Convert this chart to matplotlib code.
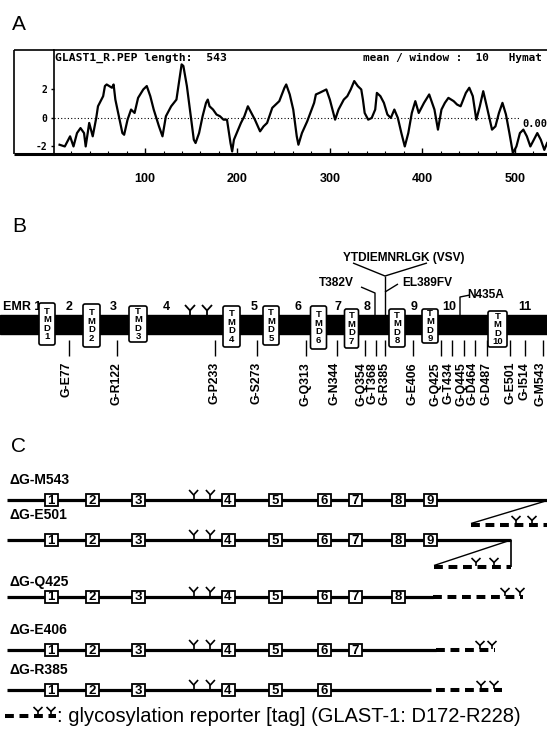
import matplotlib
matplotlib.use('Agg')
import matplotlib.pyplot as plt
from matplotlib.patches import Rectangle, FancyBboxPatch

# ------------------------------------------------------------------ data
# Panel A: hydropathy profile (residue number, mean hydropathy, window 10)
hyd_residue = [7.5, 13.2, 18.9, 22.6, 26.4, 30.2, 34.0, 35.8, 39.6, 43.4, 47.2, 49.1,
               54.7, 56.6, 58.5, 64.2, 66.0, 67.9, 71.7, 75.5, 77.4, 81.1, 84.9, 88.7,
               92.5, 98.1, 101.9, 105.7, 109.4, 115.1, 118.9, 122.6, 128.3, 134.0, 137.7,
               139.6, 141.5, 145.3, 149.1, 152.8, 154.7, 158.5, 162.3, 166.0, 167.9, 169.8,
               173.6, 177.4, 181.1, 184.9, 188.7, 192.5, 194.3, 196.2, 200.0, 203.8, 207.5,
               211.3, 215.1, 218.9, 224.5, 228.3, 232.1, 237.7, 245.3, 250.9, 252.8, 256.6,
               260.4, 264.2, 266.0, 269.8, 275.5, 283.0, 284.9, 288.7, 296.2, 300.0, 303.8,
               305.7, 309.4, 311.3, 315.1, 318.9, 322.6, 326.4, 330.2, 334.0, 335.8, 337.7,
               341.5, 345.3, 349.1, 350.9, 354.7, 358.5, 362.3, 366.0, 369.8, 373.6, 377.4,
               381.1, 384.9, 388.7, 392.5, 396.2, 401.9, 407.5, 413.2, 417.0, 420.8, 424.5,
               428.3, 434.0, 437.7, 441.5, 447.2, 450.9, 454.7, 458.5, 462.3, 466.0, 469.8,
               475.5, 479.2, 483.0, 486.8, 490.6, 494.3, 498.1, 501.9, 505.7, 509.4, 513.2,
               517.0, 520.8, 524.5, 528.3, 532.1, 535.1]
hyd_value = [-1.88, -2.0, -1.29, -2.0, -1.06, -0.71, -1.06, -2.0, -0.35, -1.29, 0.0, 0.82,
             1.53, 2.24, 2.35, 2.12, 2.35, 1.29, 0.12, -1.06, -1.18, -0.12, 0.59, 0.35,
             1.41, 2.0, 2.24, 1.53, 0.59, -0.59, -1.29, 0.12, 0.82, 1.29, 2.94,
             3.76, 3.65, 2.24, 0.35, -1.53, -1.76, -1.06, 0.12, 1.06, 1.29, 0.82,
             0.59, 0.24, 0.12, -0.12, -0.12, -1.76, -2.35, -1.53, -0.94, -0.35, 0.12,
             0.82, 0.35, -0.12, -0.94, -0.59, -0.35, 0.71, 1.18, 2.12, 2.35, 1.65,
             0.59, -1.29, -1.88, -1.06, -0.24, 1.06, 1.65, 1.76, 2.0, 1.29, 0.35,
             -0.12, 0.59, 0.82, 1.29, 1.53, 2.0, 2.59, 2.24, 2.0, 1.29, 0.35,
             -0.12, 0.0, 0.59, 1.76, 1.53, 1.06, 0.24, 0.0, 0.59, 0.0, -1.06,
             -2.0, -1.06, 0.35, 1.18, 0.35, 1.06, 1.65, 0.59, -0.82, 0.59, 1.06,
             1.41, 1.18, 0.94, 0.82, 1.76, 2.12, 1.53, -0.12, 0.82, 1.88, 0.82,
             -0.82, -0.59, 0.35, 1.06, 0.24, -1.06, -2.47, -2.0, -1.06, -0.82, -1.29,
             -2.0, -1.53, -1.06, -1.53, -2.24, -1.76]
hyd_xticks = [100, 200, 300, 400, 500]
hyd_yticks = [2, 0, -2]
header_left = 'GLAST1_R.PEP length:  543'
header_right = 'mean / window :  10   Hymat'
zero_label = '0.00'

# Panel B: topology model
loop_labels = ['EMR 1', '2', '3', '4', '5', '6', '7', '8', '9', '10', '11']
tmd_labels = ['1', '2', '3', '4', '5', '6', '7', '8', '9', '10']
construct_labels = ['G-E77', 'G-R122', 'G-P233', 'G-S273', 'G-Q313', 'G-N344', 'G-Q354',
                    'G-T368', 'G-R385', 'G-E406', 'G-Q425', 'G-T434', 'G-Q445', 'G-D464',
                    'G-D487', 'G-E501', 'G-I514', 'G-M543']
tag_label = 'YTDIEMNRLGK (VSV)'
mutation_labels = ['T382V', 'EL389FV', 'N435A']

# Panel C: truncation constructs
c_rows = ['\u0394G-M543', '\u0394G-E501', '\u0394G-Q425', '\u0394G-E406', '\u0394G-R385']
c_nboxes = [9, 9, 8, 7, 6]
legend_text = ': glycosylation reporter [tag] (GLAST-1: D172-R228)'

# ------------------------------------------------------------------ layout (pixels)
W, H = 547, 738
FONT = 'Liberation Sans'
plt.rcParams['font.family'] = [FONT, 'DejaVu Sans']

fig = plt.figure(figsize=(W / 100, H / 100), dpi=100)
ax = fig.add_axes([0, 0, 1, 1])
ax.set_xlim(0, W)
ax.set_ylim(H, 0)
ax.axis('off')

def line(xs, ys, lw=1.0, **kw):
    ax.plot(xs, ys, color='black', lw=lw, solid_capstyle='butt', **kw)

def glyco(x, y, h=9.0, w=4.5, lw=1.2):
    ym = y - h * 0.45
    line([x, x], [y, ym], lw=lw)
    line([x - w, x, x + w], [y - h, ym, y - h], lw=lw)

# ---------------- Panel A
ax.text(19, 25, 'A', fontsize=15, ha='center', va='center')
a_left, a_right, a_top, a_bot = 54, 547, 50, 154
pa = fig.add_axes([a_left / W, 1 - a_bot / H, (a_right - a_left) / W, (a_bot - a_top) / H])
pa.set_facecolor('none')
pa.plot(hyd_residue, hyd_value, color='black', lw=1.6)
pa.plot([1.5, 505], [0, 0], color='black', lw=0.8, ls=(0, (1, 2)))
pa.set_xlim(1.5, 535)
pa.set_ylim(-2.53, 4.77)
pa.spines['right'].set_visible(False)
pa.spines['top'].set_linewidth(1.2)
pa.spines['left'].set_linewidth(1.2)
pa.spines['bottom'].set_linewidth(2.2)
pa.set_xticks(hyd_xticks)
pa.set_xticklabels([str(t) for t in hyd_xticks], fontsize=9, fontweight='bold')
pa.set_xticks(range(20, 540, 20), minor=True)
pa.tick_params(axis='x', which='major', direction='in', length=4, width=1, pad=14)
pa.tick_params(axis='x', which='minor', direction='in', length=2, width=0.8)
pa.set_yticks(hyd_yticks)
pa.set_yticklabels([str(t) for t in hyd_yticks], fontsize=7, fontweight='bold',
                   family='DejaVu Sans Mono')
pa.tick_params(axis='y', direction='out', length=2, width=1, pad=3)
# label box left of the plot
line([14, a_left], [a_top, a_top], lw=1.2)
line([14, a_left], [a_bot, a_bot], lw=2.2)
line([14, 14], [a_top, a_bot], lw=1.2)
ax.text(55, 58, header_left, fontsize=8.2, fontweight='bold', family='DejaVu Sans Mono',
        va='center', ha='left')
ax.text(363, 58, header_right, fontsize=7.9, fontweight='bold', family='DejaVu Sans Mono',
        va='center', ha='left')
ax.text(522, 124, zero_label, fontsize=7.5, fontweight='bold', family='DejaVu Sans Mono',
        va='center', ha='left')

# ---------------- Panel B
ax.text(19, 227, 'B', fontsize=15, ha='center', va='center')
bar_top, bar_bot = 315, 334
ax.add_patch(Rectangle((0, bar_top), W, bar_bot - bar_top, color='black', zorder=2))

loop_x = [3, 69, 113, 166, 254, 298, 338, 367, 414, 449, 525]
for lab, x in zip(loop_labels, loop_x):
    ax.text(x, 307, lab, fontsize=9, fontweight='bold', ha='left' if lab.startswith('EMR') else 'center',
            va='center')

tmd_x = [47, 91.5, 138, 231.5, 271, 318.5, 351.5, 397, 430, 497.5]
tmd_top = [303, 304, 306, 306, 306, 306, 309, 309, 309, 311]
tmd_bot = [345, 347, 342, 347, 345, 349, 348, 347, 343, 347]
tmd_w = [16, 17, 18, 17, 16, 16, 14, 16, 16, 19]
for lab, x, t, b, w in zip(tmd_labels, tmd_x, tmd_top, tmd_bot, tmd_w):
    ax.add_patch(FancyBboxPatch((x - w / 2, t), w, b - t, boxstyle='round,pad=0,rounding_size=2',
                                facecolor='white', edgecolor='black', lw=1.2, zorder=3))
    ax.text(x, (t + b) / 2, 'T\nM\nD\n' + lab, fontsize=6.8, fontweight='bold', ha='center',
            va='center', linespacing=0.95, zorder=4)

for gx in [190, 207]:
    glyco(gx, bar_top, h=10, w=5, lw=1.3)

# tag / mutation annotations
ax.text(404, 258, tag_label, fontsize=8.6, fontweight='bold', ha='center', va='center')
line([353, 385, 427], [263, 276, 263], lw=1.0)
line([385, 385], [276, bar_top], lw=1.0)
ax.text(336, 283, mutation_labels[0], fontsize=8.6, fontweight='bold', ha='center', va='center')
line([361, 375, 375], [287, 293, bar_top], lw=1.0)
ax.text(427, 283, mutation_labels[1], fontsize=8.6, fontweight='bold', ha='center', va='center')
line([398, 385], [284, 292], lw=1.0)
ax.text(486, 295, mutation_labels[2], fontsize=8.6, fontweight='bold', ha='center', va='center')
line([470, 460, 460], [295, 297, bar_top], lw=1.0)

# truncation points below bar
construct_tick_x = [69, 117, 215, 257, 306, 337, 365, 376, 385, 413, 441, 452, 464, 475,
                    487, 510, 525, 543]
construct_lab_x = [67, 117, 215, 257, 306, 335, 361, 373, 385, 412, 436, 448, 461, 473,
                   487, 510, 525, 541]
for lab, tx, lx in zip(construct_labels, construct_tick_x, construct_lab_x):
    line([tx, tx], [340, 356], lw=1.0)
    ax.text(lx, 362, lab, fontsize=8.8, fontweight='bold', rotation=90, ha='center', va='top')

# ---------------- Panel C
ax.text(19, 447, 'C', fontsize=15, ha='center', va='center')
c_label_y = [480, 515, 582, 630, 670]
c_line_y = [500, 540, 597, 650, 690]
box_x = [51, 92, 138, 228, 275, 324, 355.5, 398.5, 430]
box_w, box_h = 13, 12
line_end = [W + 2, 511, 433, 436, 431]
tag_start = [471, 434, 433, 436, 436]
tag_end = [W + 2, 511, 523, 495, 502]
tag_glyco = [[516, 532], [476, 494], [505, 520], [480, 492], [481, 494]]
main_lw = 2.3
dash = (0, (2.2, 1.4))

for i, (lab, n) in enumerate(zip(c_rows, c_nboxes)):
    ly = c_line_y[i]
    ax.text(9, c_label_y[i], lab, fontsize=10, fontweight='bold', ha='left', va='center')
    line([7, line_end[i]], [ly, ly], lw=main_lw)
    for k in range(n):
        bx = box_x[k]
        ax.add_patch(Rectangle((bx - box_w / 2, ly - box_h / 2), box_w, box_h, facecolor='white',
                               edgecolor='black', lw=1.3, zorder=3))
        ax.text(bx, ly + 0.5, str(k + 1), fontsize=9.5, fontweight='bold', ha='center',
                va='center', zorder=4)
    for gx in [193.6, 210.4]:
        glyco(gx, ly - 1, h=9, w=4.5, lw=1.2)
    if i < 2:
        ty = ly + (25 if i == 0 else 27)
        line([line_end[i], tag_start[i]], [ly, ty - 1.5], lw=1.0)
        if i == 1:
            line([line_end[i], line_end[i]], [ly, ty], lw=1.2)
        ax.plot([tag_start[i], tag_end[i]], [ty, ty], color='black', lw=main_lw + 0.6, ls=dash)
        for gx in tag_glyco[i]:
            glyco(gx, ty - 1, h=8, w=4.5, lw=1.2)
    else:
        ax.plot([tag_start[i], tag_end[i]], [ly, ly], color='black', lw=main_lw + 0.6, ls=dash)
        for gx in tag_glyco[i]:
            glyco(gx, ly - 1, h=8, w=4.5, lw=1.2)

# legend
ax.plot([5, 56], [716, 716], color='black', lw=main_lw + 0.6, ls=dash)
for gx in [38, 51]:
    glyco(gx, 715, h=8, w=4.5, lw=1.2)
ax.text(57, 717, legend_text, fontsize=14.5, ha='left', va='center')

fig.savefig('out.png', dpi=100)
